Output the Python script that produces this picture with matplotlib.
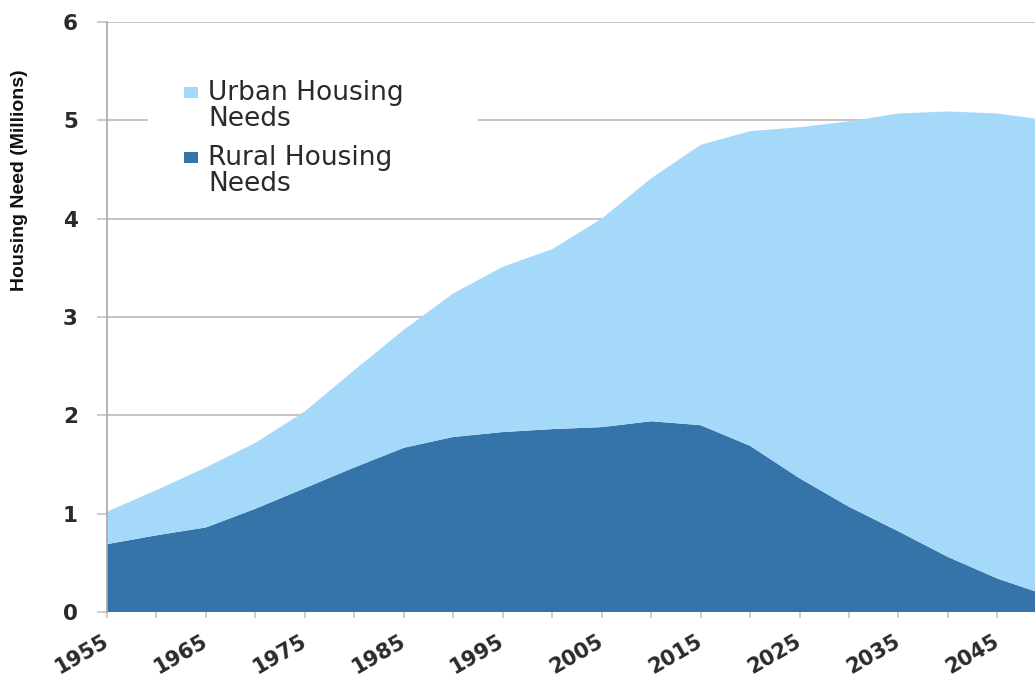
import matplotlib.pyplot as plt
from matplotlib.patches import Rectangle
from matplotlib.ticker import FixedLocator, MultipleLocator

years = [1955, 1960, 1965, 1970, 1975, 1980, 1985, 1990, 1995, 2000,
         2005, 2010, 2015, 2020, 2025, 2030, 2035, 2040, 2045, 2050]
rural = [0.69, 0.78, 0.86, 1.05, 1.26, 1.47, 1.67, 1.78, 1.83, 1.86,
         1.88, 1.94, 1.90, 1.69, 1.36, 1.07, 0.82, 0.56, 0.34, 0.17]
urban = [0.33, 0.46, 0.61, 0.67, 0.78, 0.99, 1.20, 1.46, 1.68, 1.83,
         2.12, 2.47, 2.85, 3.20, 3.57, 3.92, 4.25, 4.53, 4.73, 4.83]
year_labels = [1955, 1965, 1975, 1985, 1995, 2005, 2015, 2025, 2035, 2045]
labels = ["Urban Housing\nNeeds", "Rural Housing\nNeeds"]

light = "#a5d9fa"
dark = "#3574a9"
grid_c = "#c4c4c4"
text_c = "#2a2a2a"

fig = plt.figure(figsize=(10.35, 6.84), dpi=100)
ax = fig.add_axes([107 / 1035, 72 / 684, 928 / 1035, 590 / 684])

ax.stackplot(years, rural, urban, colors=[dark, light], linewidth=0)

ax.set_xlim(1955, 2048.8)
ax.set_ylim(0, 6)

ax.xaxis.set_major_locator(FixedLocator(year_labels))
ax.xaxis.set_minor_locator(FixedLocator(years))
ax.set_xticklabels([str(y) for y in year_labels])
ax.yaxis.set_major_locator(MultipleLocator(1))

ax.grid(axis="y", color=grid_c, linewidth=1.4)
ax.set_axisbelow(True)

for s in ["top", "right", "bottom"]:
    ax.spines[s].set_visible(False)
ax.spines["left"].set_color("#a8a8a8")
ax.spines["left"].set_linewidth(1.2)

ax.tick_params(axis="y", length=7, width=1.2, color=grid_c, pad=14,
               labelsize=15.5, labelcolor=text_c)
ax.tick_params(axis="x", which="both", length=4, width=1.2, color=grid_c)
ax.tick_params(axis="x", which="major", pad=16, labelsize=15, labelcolor=text_c)
for t in ax.get_yticklabels():
    t.set_fontfamily("DejaVu Sans")
    t.set_fontweight("bold")
for t in ax.get_xticklabels():
    t.set_fontfamily("DejaVu Sans")
    t.set_fontweight("bold")
    t.set_rotation(30)
    t.set_ha("right")
    t.set_va("center")
    t.set_rotation_mode("anchor")

fig.text(20 / 1035, 1 - 180 / 684, "Housing Need (Millions)", rotation=90,
         ha="center", va="center", fontsize=14, fontweight="bold",
         family="Liberation Sans", color="#111111")

# legend block drawn by hand so the swatch sits beside the first line
ax.add_patch(Rectangle((41 / 928, 412 / 590), 330 / 928, 125 / 590,
                       transform=ax.transAxes, facecolor="white",
                       edgecolor="none", zorder=3))
for i, (lab, col) in enumerate(zip(labels, [light, dark])):
    ytop = 87 + i * 65
    ax.add_patch(Rectangle((77 / 928, (612 - ytop - 11) / 590), 14 / 928, 11 / 590,
                           transform=ax.transAxes, facecolor=col,
                           edgecolor="none", zorder=4))
    ax.text(101 / 928, (612 - ytop + 7) / 590, lab, transform=ax.transAxes,
            ha="left", va="top", fontsize=19, family="DejaVu Sans",
            color=text_c, linespacing=1.02, zorder=4)

fig.savefig("out.png", dpi=100)
